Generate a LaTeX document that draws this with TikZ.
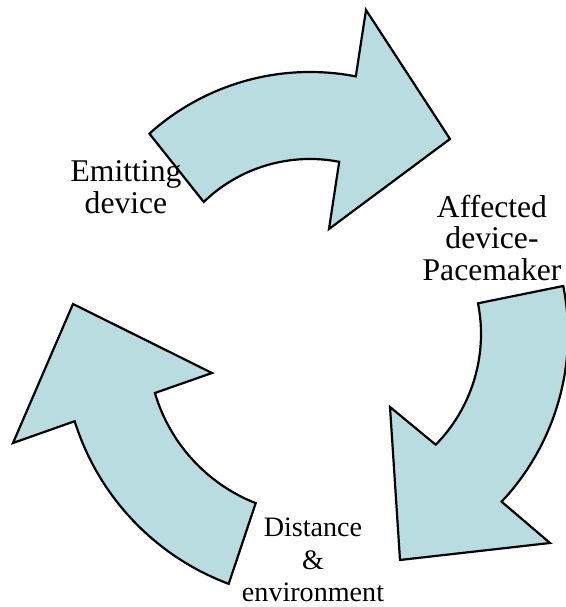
\documentclass[tikz,border=0pt]{standalone}
\usepackage{xcolor}
\usepackage{fontspec}
\setmainfont{Liberation Serif}
\usepackage{tikz}

\definecolor{arrowblue}{RGB}{184,220,224}

\begin{document}
\begin{tikzpicture}[x=0.02cm, y=0.02cm,
  bigarrow/.style={draw=black, fill=arrowblue, line width=1.25pt},
  lbl/.style={align=center, inner sep=0pt, font=\fontsize{18}{18}\selectfont}]
\useasboundingbox (0,0) rectangle (565,607);

% Top arrow
\draw[bigarrow, shift={(310,295)}] (132:240) arc[start angle=132, end angle=79, radius=240]
  -- (56,302) -- (140,173) -- (19,83)
  -- (79:153) arc[start angle=79, end angle=134, radius=153] -- cycle;

% Right arrow
\draw[bigarrow, shift={(323,273)}] (11.3:245) arc[start angle=11.3, end angle=-43.2, radius=245]
  -- (227,-209) -- (77,-226) -- (67,-73)
  -- (-44.5:158) arc[start angle=-44.5, end angle=11.2, radius=158] -- cycle;

% Left arrow
\draw[bigarrow, shift={(318,262)}] (249.5:255) arc[start angle=249.5, end angle=197.4, radius=255]
  -- (-305,-98) -- (-245,41) -- (-106,-28)
  -- (196.4:170) arc[start angle=196.4, end angle=248.5, radius=170] -- cycle;

% Labels
\node[lbl] (emit) at (126,420) {Emitting\\device};
\node[lbl] (affect) at (492,369) {Affected\\device-\\Pacemaker};
\node[lbl, font=\fontsize{16}{18.5}\selectfont] (dist) at (313,47) {Distance\\\&\\environment};

\end{tikzpicture}
\end{document}
